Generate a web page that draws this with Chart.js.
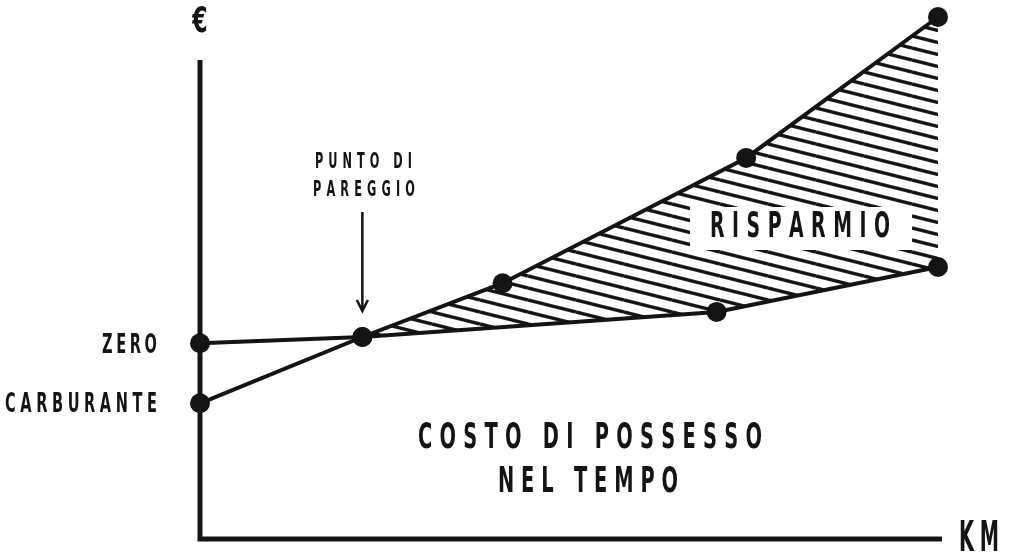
<!DOCTYPE html>
<html>
<head>
<meta charset="utf-8">
<script src="https://cdn.jsdelivr.net/npm/chart.js@4.4.1/dist/chart.umd.min.js"></script>
<style>
	html, body { margin: 0; padding: 0; background: #fff; }
	#wrap { width: 1010px; height: 560px; }
</style>
</head>
<body>
<div id="wrap"><canvas id="myChart"></canvas></div>
<script>
// km (0-100) and cost (0-100)
const kmZero = [0, 22, 70, 100];
const costZero = [37.5, 38.7, 43.5, 52.1];

const kmFuel = [0, 22, 41, 74, 100];
const costFuel = [26, 38.7, 49, 73, 100];

const INK = "#141414";
const FONT = '"DejaVu Sans Condensed", "DejaVu Sans", sans-serif';

// hatch for the saving area
function hatchPattern() {
	const tile = document.createElement("canvas");
	tile.width = 48;
	tile.height = 12;
	const c = tile.getContext("2d");
	c.strokeStyle = INK;
	c.lineWidth = 3.4;
	for (let k = -1; k <= 1; k++) {
		c.beginPath();
		c.moveTo(0, k * 12);
		c.lineTo(48, k * 12 + 12);
		c.stroke();
	}
	return c.createPattern(tile, "repeat");
}

// condensed text spread between left and right edge
function spaced(ctx, str, left, right, baseline, size, squeeze) {
	squeeze = squeeze || 0.6;
	ctx.font = "bold " + size + "px " + FONT;
	ctx.textAlign = "left";
	ctx.textBaseline = "alphabetic";
	const chars = str.split("");
	const widths = chars.map((ch) => ctx.measureText(ch).width * squeeze);
	const total = widths.reduce((a, b) => a + b, 0);
	let gap = 0;
	let x = left;
	if (chars.length > 1) gap = (right - left - total) / (chars.length - 1);
	else x = (left + right - total) / 2;
	chars.forEach((ch, i) => {
		ctx.save();
		ctx.translate(x, baseline);
		ctx.scale(squeeze, 1);
		ctx.fillText(ch, 0, 0);
		ctx.restore();
		x += widths[i] + gap;
	});
}

const labels = [
	["€", 193, 207, 32, 35, 0.7],
	["PUNTO DI", 315, 412, 168, 21],
	["PAREGGIO", 313, 415, 196, 21],
	["ZERO", 102, 157, 353, 27],
	["CARBURANTE", 5, 157, 412, 27],
	["COSTO DI POSSESSO", 418, 762, 448, 36],
	["NEL TEMPO", 498, 678, 492, 36],
	["KM", 959, 999, 551, 43, 0.5],
];

const drawing = {
	id: "drawing",
	beforeDatasetsDraw(chart) {
		const ctx = chart.ctx;
		const xs = chart.scales.x;
		const ys = chart.scales.y;
		const x0 = xs.getPixelForValue(0);
		const y0 = ys.getPixelForValue(0);
		ctx.save();
		ctx.strokeStyle = INK;
		ctx.lineWidth = 5;
		ctx.beginPath();
		ctx.moveTo(x0, 60);
		ctx.lineTo(x0, y0 + 2.5);
		ctx.moveTo(x0 - 2.5, y0);
		ctx.lineTo(xs.getPixelForValue(100) + 4, y0);
		ctx.stroke();
		ctx.restore();
	},
	afterDatasetsDraw(chart) {
		const ctx = chart.ctx;
		const xs = chart.scales.x;
		ctx.save();
		ctx.fillStyle = INK;
		labels.forEach((l) => spaced(ctx, l[0], l[1], l[2], l[3], l[4], l[5]));

		// box behind RISPARMIO
		ctx.fillStyle = "#fff";
		ctx.fillRect(690, 207, 222, 43);
		ctx.fillStyle = INK;
		spaced(ctx, "RISPARMIO", 710, 890, 237, 35);

		// arrow to the break-even point
		const bx = xs.getPixelForValue(kmFuel[1]);
		ctx.strokeStyle = INK;
		ctx.lineWidth = 2.5;
		ctx.beginPath();
		ctx.moveTo(bx, 212);
		ctx.lineTo(bx, 311);
		ctx.moveTo(bx - 5.5, 300);
		ctx.lineTo(bx, 311);
		ctx.lineTo(bx + 5.5, 300);
		ctx.stroke();
		ctx.restore();
	},
};

const pointStyle = {
	borderColor: INK,
	borderWidth: 4,
	tension: 0,
	pointRadius: 10,
	pointHoverRadius: 10,
	pointBackgroundColor: INK,
	pointBorderWidth: 0,
	clip: false,
};

new Chart("myChart", {
	type: "line",
	data: {
		datasets: [
			{
				label: "Zero",
				data: kmZero.map((k, i) => ({ x: k, y: costZero[i] })),
				fill: false,
				...pointStyle,
			},
			{
				label: "Carburante",
				data: kmFuel.map((k, i) => ({ x: k, y: costFuel[i] })),
				fill: { target: 0, above: hatchPattern(), below: "rgba(0,0,0,0)" },
				...pointStyle,
			},
		],
	},
	options: {
		responsive: true,
		maintainAspectRatio: false,
		animation: false,
		layout: { padding: { left: 200, right: 72, top: 17, bottom: 21 } },
		scales: {
			x: { type: "linear", min: 0, max: 100, display: false },
			y: { min: 0, max: 100, display: false },
		},
		plugins: {
			legend: { display: false },
			tooltip: { enabled: false },
		},
	},
	plugins: [drawing],
});
</script>
</body>
</html>
